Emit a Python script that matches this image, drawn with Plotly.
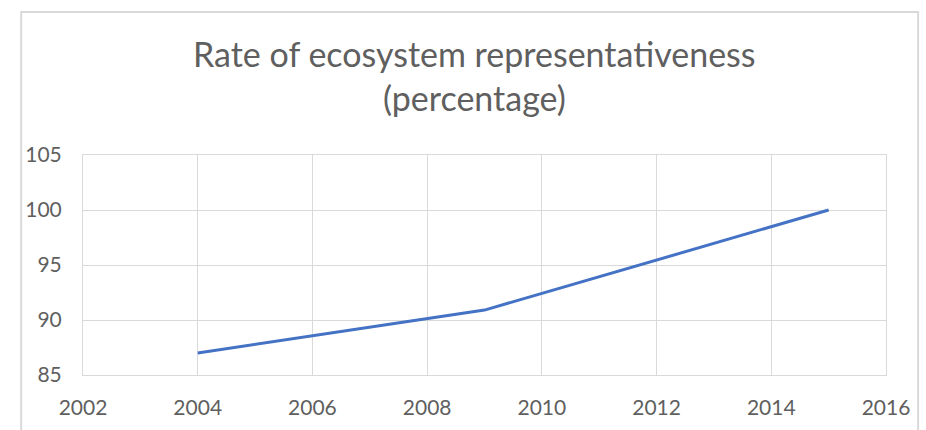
import plotly.graph_objects as go

years = [2004, 2009, 2015]
values = [87.0, 90.9, 100.0]
x_ticks = [2002, 2004, 2006, 2008, 2010, 2012, 2014, 2016]
y_ticks = [85, 90, 95, 100, 105]
title_lines = ["Rate of ecosystem representativeness", "(percentage)"]

fig = go.Figure()
fig.add_trace(go.Scatter(x=years, y=values, mode="lines",
                         line=dict(color="#4472C4", width=3), showlegend=False))

font_family = "Lato, 'Open Sans', sans-serif"
title_y = [1.46, 1.262]
annotations = [dict(text=t, xref="paper", yref="paper", x=0.4875, y=yy,
                    xanchor="center", yanchor="middle", showarrow=False,
                    font=dict(family=font_family, size=34, color="#5f5f5f"))
               for t, yy in zip(title_lines, title_y)]

fig.update_layout(
    width=926, height=430,
    margin=dict(l=83, r=40, t=155, b=55),
    paper_bgcolor="white", plot_bgcolor="white",
    font=dict(family=font_family, size=21, color="#5f5f5f"),
    annotations=annotations,
    xaxis=dict(range=[2002, 2016], tickvals=x_ticks, showgrid=True,
               gridcolor="#D9D9D9", gridwidth=1, zeroline=False,
               showline=True, linecolor="#D9D9D9", mirror=True,
               ticks="", ticklabelstandoff=14),
    yaxis=dict(range=[85, 105], tickvals=y_ticks, showgrid=True,
               gridcolor="#D9D9D9", gridwidth=1, zeroline=False,
               showline=True, linecolor="#D9D9D9", mirror=True,
               ticks="", ticklabelstandoff=16),
    shapes=[dict(type="rect", xref="paper", yref="paper",
                 x0=-0.077, x1=1.04, y0=-0.3, y1=1.65,
                 line=dict(color="#D9D9D9", width=2), fillcolor="rgba(0,0,0,0)")],
)

fig.write_html("out.html")
